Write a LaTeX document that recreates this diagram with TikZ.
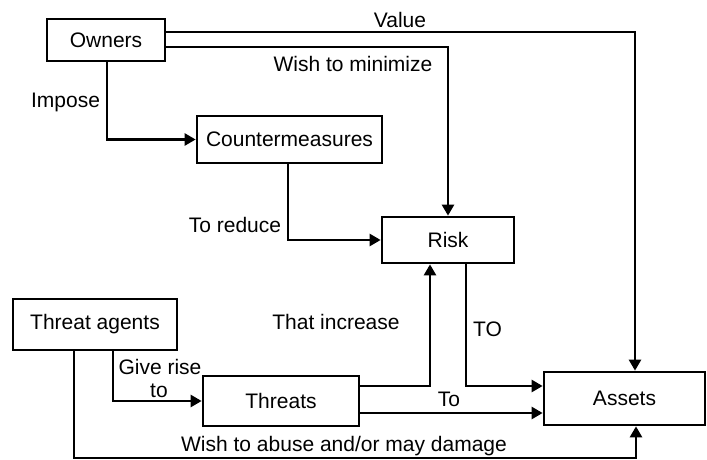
\documentclass[tikz,border=0pt]{standalone}
\usepackage{fontspec}
\setmainfont{Liberation Sans}
\usetikzlibrary{arrows.meta}
\begin{document}
\begin{tikzpicture}[x=1pt,y=-1pt,
  every node/.style={font=\fontsize{21}{23}\selectfont},
  box/.style={draw,line width=2.7pt,inner sep=0pt,anchor=center},
  lbl/.style={inner sep=0pt,anchor=center,text height=15pt,text depth=0pt},
  conn/.style={line width=2.5pt,-{Triangle[length=11pt,width=12pt]}}]
\useasboundingbox (0,0) rectangle (707,460);
% boxes
\node[box,minimum width=118pt,minimum height=42pt] (owners) at (106,40) {Owners};
\node[box,minimum width=185pt,minimum height=47pt] (cm) at (289.5,139.5) {Countermeasures};
\node[box,minimum width=132pt,minimum height=46pt] (risk) at (448,240) {Risk};
\node[box,minimum width=164pt,minimum height=51pt] (ta) at (95,324.5) {Threat agents};
\node[box,minimum width=156pt,minimum height=50pt] (threats) at (281,401) {Threats};
\node[box,minimum width=161pt,minimum height=53pt] (assets) at (624.5,398.5) {Assets};
% bend coordinates
\coordinate (cval) at (635,32);
\coordinate (cmin) at (448,47);
\coordinate (cimp) at (107,139.5);
\coordinate (cred) at (288,240);
\coordinate (cinc) at (430,386);
\coordinate (cto) at (466,386);
\coordinate (cTo) at (359,413);
\coordinate (cgr) at (113,401);
\coordinate (cab) at (74,458);
\coordinate (cab2) at (636,458);
% connectors
\draw[conn] (owners.east |- cval) -| (assets.north -| cval);
\draw[conn] (owners.east |- cmin) -| (risk.north);
\draw[conn] (owners.south -| cimp) |- (cm.west);
\draw[conn] (cm.south -| cred) |- (risk.west);
\draw[conn] (threats.east |- cinc) -| (risk.south -| cinc);
\draw[conn] (risk.south -| cto) |- (assets.west |- cto);
\draw[conn] (threats.east |- cTo) -- (assets.west |- cTo);
\draw[conn] (ta.south -| cgr) |- (threats.west);
\draw[conn] (ta.south -| cab) |- (cab2) -- (assets.south -| cab2);
% labels
\node[lbl] (lval) at (400,20) {Value};
\node[lbl] (lmin) at (353,64) {Wish to minimize};
\node[lbl] (limp) at (65.5,100) {Impose};
\node[lbl] (lred) at (235,225) {To reduce};
\node[lbl] (linc) at (336,322) {That increase};
\node[lbl] (lTO) at (487.5,329) {TO};
\node[lbl] (lTo) at (449,399) {To};
\node[lbl] (lgr1) at (160,367) {Give rise};
\node[lbl] (lgr2) at (159,390) {to};
\node[lbl] (lab) at (344,444) {Wish to abuse and/or may damage};
\end{tikzpicture}
\end{document}
